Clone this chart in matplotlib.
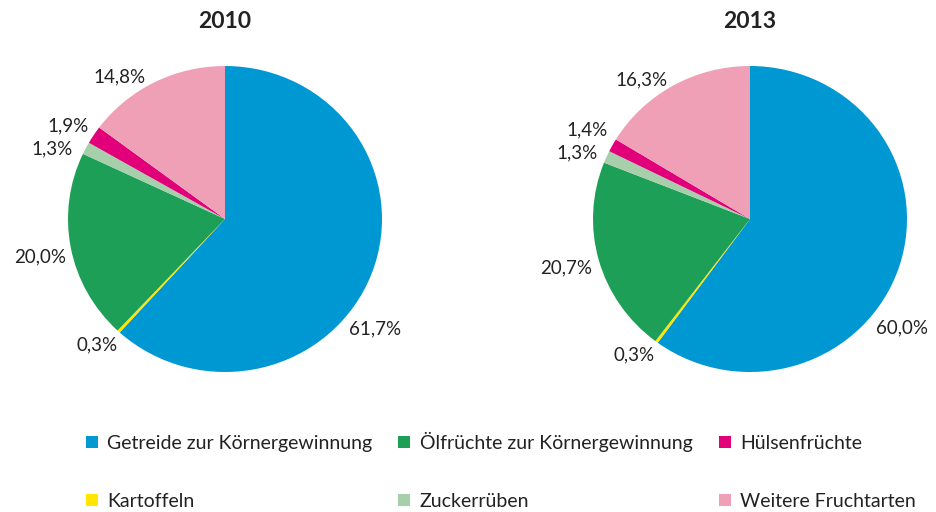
import matplotlib.pyplot as plt
from matplotlib.lines import Line2D

plt.rcParams['font.family'] = ['Lato', 'DejaVu Sans']

# Datos (Anteil an der Ackerfläche, %)
categories = ['Getreide zur Körnergewinnung', 'Kartoffeln', 'Ölfrüchte zur Körnergewinnung',
              'Zuckerrüben', 'Hülsenfrüchte', 'Weitere Fruchtarten']
values_2010 = [61.7, 0.3, 20.0, 1.3, 1.9, 14.8]
values_2013 = [60.0, 0.3, 20.7, 1.3, 1.4, 16.3]
years = ['2010', '2013']
colors = ['#0098d3', '#ffe500', '#1e9f57', '#a8cfab', '#e2007a', '#f0a0b6']

# Posiciones de las etiquetas relativas al radio (x, y)
label_pos_2010 = [(0.955, -0.72), (-0.815, -0.82), (-1.18, -0.25), (-1.10, 0.46), (-1.0, 0.61), (-0.675, 0.93)]
label_pos_2013 = [(0.97, -0.71), (-0.74, -0.89), (-1.17, -0.32), (-1.10, 0.43), (-1.04, 0.58), (-0.69, 0.91)]

W, H = 937, 512
RX, RY = 157, 153
centers = [(225, 219), (750, 219)]

fig = plt.figure(figsize=(W / 100, H / 100), dpi=100)

for values, year, (cx, cy), lpos in zip([values_2010, values_2013], years, centers,
                                        [label_pos_2010, label_pos_2013]):
    ax = fig.add_axes([(cx - RX) / W, (H - cy - RY) / H, 2 * RX / W, 2 * RY / H])
    ax.pie(values, colors=colors, startangle=90, counterclock=False,
           wedgeprops=dict(linewidth=0))
    ax.set_aspect('auto')
    ax.set_xlim(-1, 1)
    ax.set_ylim(-1, 1)
    ax.axis('off')
    for v, (lx, ly) in zip(values, lpos):
        ax.text(lx, ly, f"{v:.1f}%".replace('.', ','), ha='center', va='center',
                fontsize=13.5, color='#222222')
    fig.text(cx / W, 1 - 22 / H, year, ha='center', va='center',
             fontsize=16.5, fontweight='bold', color='#222222')

# Leyenda
handles = [Line2D([0], [0], marker='s', linestyle='', markersize=9,
                  markerfacecolor=colors[i], markeredgewidth=0, label=categories[i])
           for i in range(len(categories))]
fig.legend(handles=handles, ncol=3, loc='center left', bbox_to_anchor=(77 / W, 1 - 471 / H),
           frameon=False, fontsize=14, labelspacing=2.1, columnspacing=1.3,
           handlelength=0.7, handletextpad=0.45, labelcolor='#222222', borderaxespad=0)

fig.savefig('out.png', dpi=100)
